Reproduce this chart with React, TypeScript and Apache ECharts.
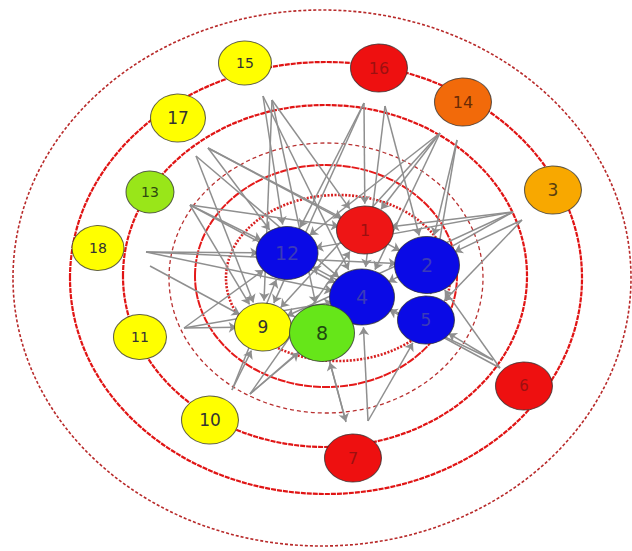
import React, { useEffect, useRef } from "react";
import * as echarts from "echarts";

// Nodes of the diagram (positions are values on hidden 0..632 / 0..551 axes)
const nodeNames = ["15", "17", "13", "18", "16", "14", "3", "11", "10", "6", "7", "1", "12", "2", "5", "9", "4", "8"];
const nodeX = [245, 178, 150, 98, 379, 463, 553, 140, 210, 524, 353, 365, 287, 427, 426, 263, 362, 322];
const nodeY = [63, 118, 192, 248, 68, 102, 190, 337, 420, 386, 458, 230, 253, 265, 320, 327, 297, 333];

// Invisible start points of the arrows, near the outer nodes
const anchorNames = ["a15", "b15", "a16", "b16", "a14", "b14", "a3", "b3", "a17", "b17", "a13", "a18", "b18", "a11", "a10", "b10", "a7", "b7", "a6", "b6"];
const anchorX = [263, 272, 364, 385, 440, 457, 513, 522, 208, 196, 190, 146, 150, 184, 232, 250, 346, 368, 493, 500];
const anchorY = [96, 100, 103, 106, 133, 140, 212, 220, 148, 156, 205, 252, 266, 328, 390, 394, 422, 421, 360, 368];

// Directed links [source, target]
const links: [string, string][] = [
  ["a15", "12"], ["b15", "1"], ["a15", "4"], ["b15", "9"], ["b15", "8"],
  ["a16", "12"], ["a16", "1"], ["b16", "4"], ["b16", "2"], ["a16", "9"],
  ["a14", "12"], ["a14", "1"], ["a14", "4"], ["b14", "2"], ["b14", "5"], ["a14", "9"],
  ["a3", "12"], ["a3", "1"], ["b3", "2"], ["a3", "4"], ["a3", "9"], ["b3", "5"],
  ["a17", "12"], ["a17", "1"], ["b17", "4"], ["a17", "2"], ["b17", "9"],
  ["a13", "12"], ["a13", "4"], ["a13", "9"], ["a13", "1"],
  ["a18", "12"], ["a18", "4"], ["b18", "9"], ["a18", "2"],
  ["a11", "9"], ["a11", "12"], ["a11", "4"],
  ["a10", "9"], ["b10", "8"], ["a10", "12"], ["b10", "4"], ["b10", "1"],
  ["8", "a7"], ["b7", "4"], ["b7", "5"], ["a7", "8"],
  ["a6", "5"], ["b6", "2"], ["a6", "4"], ["b6", "12"],
];

// Concentric rings: centre and radii in axis units
const ringCx = [322, 326, 325, 326, 326, 338];
const ringCy = [278, 278, 276, 278, 276, 278];
const ringRx = [309, 256, 202, 157, 131, 112];
const ringRy = [268, 216, 171, 135, 111, 83];

const ringStyles = [
  { stroke: "#b82a2a", lineWidth: 1.6, lineDash: [3, 2] },
  { stroke: "#e01414", lineWidth: 2.2, lineDash: [5, 1] },
  { stroke: "#e01414", lineWidth: 2.2, lineDash: [5, 1] },
  { stroke: "#b83030", lineWidth: 1.3, lineDash: [4, 3] },
  { stroke: "#e41a1a", lineWidth: 2, lineDash: [8, 1] },
  { stroke: "#d82020", lineWidth: 2.6, lineDash: [2, 1.5] },
];

const nodeStyle: Record<string, { size: number[]; color: string; text: string; font: number }> = {
  "15": { size: [53, 44], color: "#ffff00", text: "#333", font: 14 },
  "17": { size: [55, 48], color: "#ffff00", text: "#333", font: 17 },
  "13": { size: [48, 42], color: "#99e619", text: "#2f4a10", font: 14 },
  "18": { size: [52, 45], color: "#ffff00", text: "#333", font: 14 },
  "16": { size: [57, 48], color: "#ee1010", text: "#9c1010", font: 16 },
  "14": { size: [57, 48], color: "#f26a0a", text: "#6a2a05", font: 16 },
  "3": { size: [57, 48], color: "#f8a800", text: "#5a4010", font: 17 },
  "11": { size: [53, 45], color: "#ffff00", text: "#333", font: 14 },
  "10": { size: [57, 48], color: "#ffff00", text: "#333", font: 17 },
  "6": { size: [57, 48], color: "#ee1010", text: "#9c1010", font: 15 },
  "7": { size: [57, 48], color: "#ee1010", text: "#9c1010", font: 16 },
  "1": { size: [57, 48], color: "#ee1515", text: "#9c1010", font: 16 },
  "12": { size: [62, 53], color: "#0a0ae6", text: "#3b3bb8", font: 19 },
  "2": { size: [65, 57], color: "#0a0ae6", text: "#3b3bb8", font: 19 },
  "5": { size: [57, 48], color: "#0a0ae6", text: "#3b3bb8", font: 17 },
  "9": { size: [57, 48], color: "#ffff00", text: "#333", font: 17 },
  "4": { size: [65, 56], color: "#0a0ae6", text: "#3b3bb8", font: 19 },
  "8": { size: [65, 57], color: "#66e619", text: "#1f4a10", font: 19 },
};

export default function App() {
  const ref = useRef<HTMLDivElement>(null);
  useEffect(() => {
    if (!ref.current) return;
    const chart = echarts.init(ref.current, null, { renderer: "svg" });

    const ringData = ringCx.map((cx, i) => [cx, ringCy[i], ringRx[i], ringRy[i]]);

    const nodes = [
      ...anchorNames.map((n, i) => ({
        name: n,
        value: [anchorX[i], anchorY[i]],
        symbolSize: 1,
        itemStyle: { opacity: 0 },
        label: { show: false },
      })),
      ...nodeNames.map((n, i) => {
        const s = nodeStyle[n];
        return {
          name: n,
          value: [nodeX[i], nodeY[i]],
          symbolSize: s.size,
          itemStyle: { color: s.color, borderColor: "rgba(50,50,50,0.75)", borderWidth: 1 },
          label: { show: true, position: "inside", color: s.text, fontSize: s.font, formatter: "{b}" },
        };
      }),
    ];

    chart.setOption({
      animation: false,
      backgroundColor: "#ffffff",
      grid: { left: 0, right: 0, top: 0, bottom: 0 },
      xAxis: { type: "value", min: 0, max: 632, show: false },
      yAxis: { type: "value", min: 0, max: 551, inverse: true, show: false },
      series: [
        {
          type: "custom",
          coordinateSystem: "cartesian2d",
          z: 1,
          silent: true,
          data: ringData,
          renderItem: (params: any, api: any) => {
            const c = api.coord([api.value(0), api.value(1)]);
            const s = api.size([api.value(2), api.value(3)]);
            const st = ringStyles[params.dataIndex];
            return {
              type: "ellipse",
              shape: { cx: c[0], cy: c[1], rx: s[0], ry: s[1] },
              style: { fill: "none", stroke: st.stroke, lineWidth: st.lineWidth, lineDash: st.lineDash },
            };
          },
        },
        {
          type: "graph",
          coordinateSystem: "cartesian2d",
          layout: "none",
          z: 2,
          symbol: "circle",
          edgeSymbol: ["none", "arrow"],
          edgeSymbolSize: [0, 8],
          label: { fontFamily: "DejaVu Sans" },
          lineStyle: { color: "#8f8f8f", width: 1.5, opacity: 1 },
          data: nodes,
          links: links.map(([s, t]) => ({ source: s, target: t })),
        },
      ],
    });
    return () => chart.dispose();
  }, []);
  return <div ref={ref} style={{ position: "absolute", left: 0, top: 0, width: 632, height: 551 }} />;
}
